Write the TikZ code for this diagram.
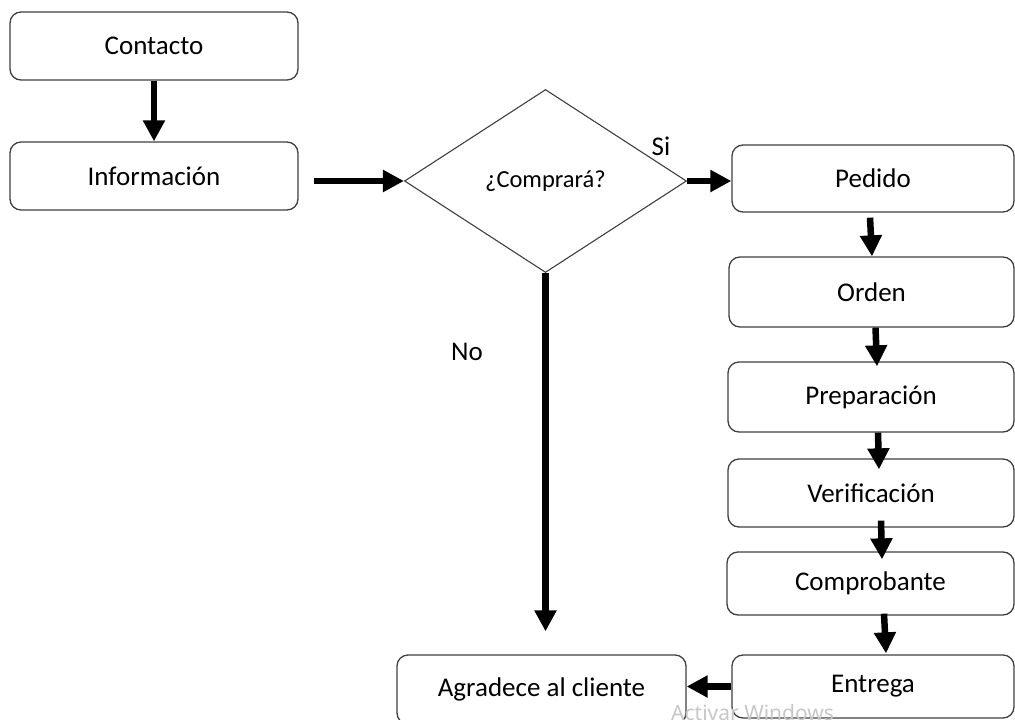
\documentclass[tikz,border=0pt]{standalone}
\usepackage{fontspec}
\setmainfont{Carlito}
\newfontfamily\wmfont{Noto Sans}
\usetikzlibrary{arrows.meta,shapes.geometric,calc}
\tikzset{
  box/.style={draw=black!75, line width=1.3pt, rounded corners=11pt, fill=white,
    inner sep=0pt, font=\fontsize{27}{31}\selectfont},
  decision/.style={draw=black!75, line width=1.1pt, shape=diamond, fill=white,
    inner sep=0pt, minimum width=282pt, minimum height=183pt,
    font=\fontsize{24.5}{28}\selectfont},
  arr/.style={line width=6.5pt, -{Triangle[length=21pt,width=21pt]}},
  lbl/.style={font=\fontsize{27}{31}\selectfont, inner sep=0pt},
}
\begin{document}
\begin{tikzpicture}[x=1pt,y=-1pt]
\useasboundingbox (0,0) rectangle (1015,720);
\fill[white] (0,0) rectangle (1015,720);
\begin{scope}
\clip (0,0) rectangle (1015,720);
% left column
\node[box, minimum width=288pt, minimum height=68pt] (contacto) at (154,46) {Contacto};
\node[box, minimum width=288pt, minimum height=68pt] (info) at (154,176) {Información};
% decision
\node[decision] (dia) at (545.5,181) {¿Comprará?};
% right column
\node[box, minimum width=282pt, minimum height=67pt] (pedido) at (873,178.5) {Pedido};
\node[box, minimum width=285pt, minimum height=70pt] (orden) at (871.5,292) {Orden};
\node[box, minimum width=286pt, minimum height=70pt] (prep) at (871,397) {Preparación};
\node[box, minimum width=286pt, minimum height=68pt] (verif) at (871,493) {Verificación};
\node[box, minimum width=287pt, minimum height=63pt] (compro) at (870.5,583.5) {Comprobante};
\node[box, minimum width=282pt, minimum height=63pt] (entrega) at (873,686.5) {Entrega};
\node[box, minimum width=289pt, minimum height=69pt] (agradece) at (541.5,689.5) {Agradece al cliente};
% labels
\node[lbl] (si) at (661,146) {Si};
\node[lbl] (no) at (467,352) {No};
% connectors
\draw[arr] (contacto) -- (info);
\draw[arr] ([xshift=15pt]info.east |- dia.west) -- (dia.west);
\draw[arr] (dia.east) -- (dia.east -| pedido.west);
\coordinate (noend) at ($(dia.south |- agradece.north)+(0,-23)$);
\draw[arr] (dia.south) -- (noend);
\draw[arr] ([xshift=-3pt,yshift=-5pt]pedido.south) -- ([xshift=0.5pt]orden.north);
\draw[arr] ([xshift=4pt]orden.south) -- ([xshift=6pt,yshift=-5pt]prep.north);
\draw[arr] ([xshift=7pt]prep.south) -- ([xshift=8pt,yshift=-11pt]verif.north);
\draw[arr] ([xshift=10pt,yshift=7pt]verif.south) -- ([xshift=11.5pt,yshift=-8pt]compro.north);
\draw[arr] ([xshift=13.5pt,yshift=2pt]compro.south) -- ([xshift=13pt,yshift=1pt]entrega.north);
\draw[arr] (entrega.west) -- (entrega.west -| agradece.east);
% watermark
\node[anchor=north west, inner sep=0pt, text=black!22,
  font=\wmfont\fontsize{21}{25}\selectfont] (wm) at (671,704) {Activar Windows};
\end{scope}
\end{tikzpicture}
\end{document}
